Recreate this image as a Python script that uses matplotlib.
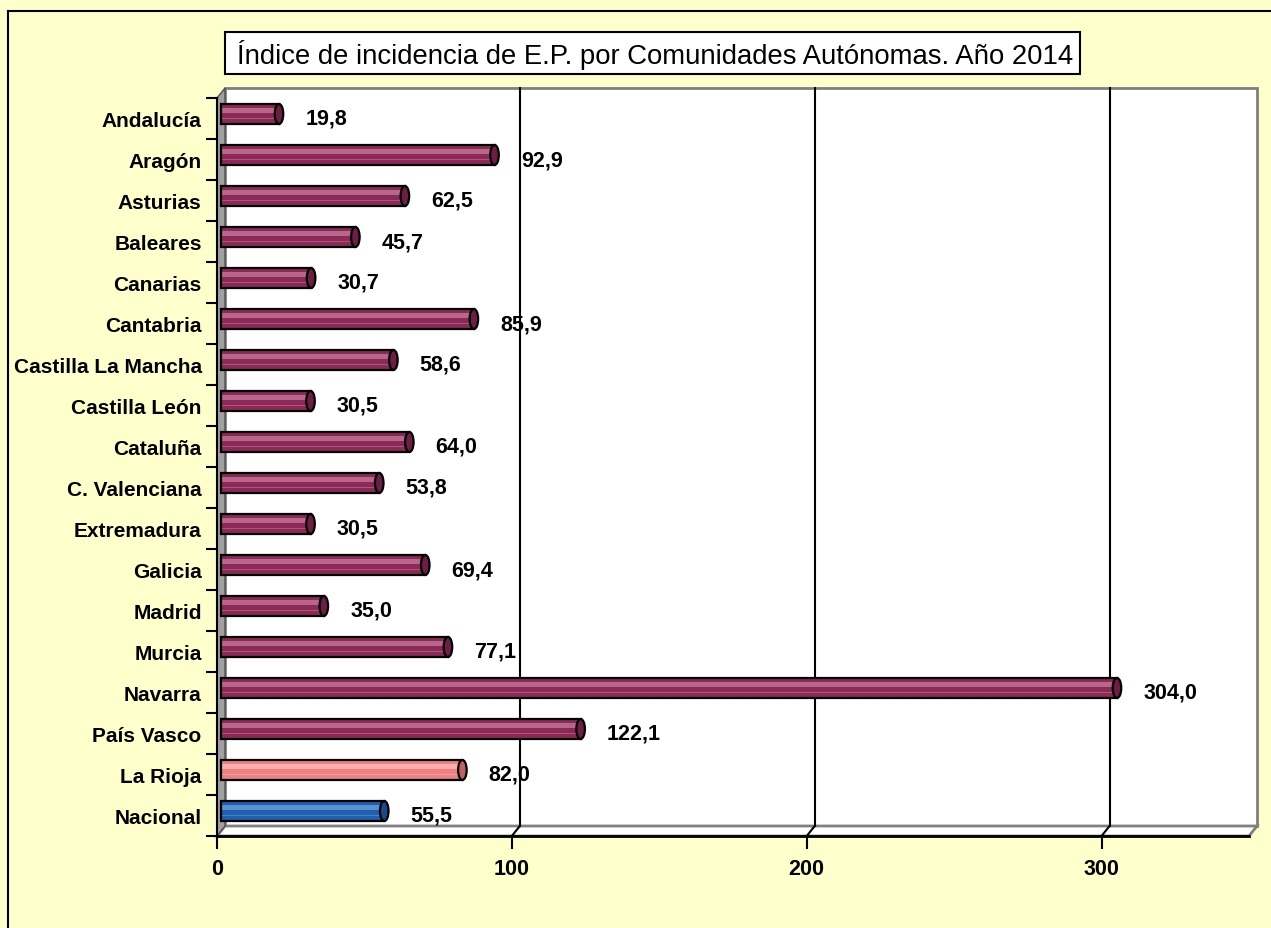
import numpy as np
import matplotlib.pyplot as plt
from matplotlib.patches import Ellipse, Polygon, Rectangle
from matplotlib.lines import Line2D
import matplotlib.transforms as mtransforms

plt.rcParams['font.family'] = ['Liberation Sans', 'DejaVu Sans']

regions = ["Andalucía", "Aragón", "Asturias", "Baleares", "Canarias", "Cantabria",
           "Castilla La Mancha", "Castilla León", "Cataluña", "C. Valenciana",
           "Extremadura", "Galicia", "Madrid", "Murcia", "Navarra", "País Vasco",
           "La Rioja", "Nacional"]
values = [19.8, 92.9, 62.5, 45.7, 30.7, 85.9, 58.6, 30.5, 64.0, 53.8,
          30.5, 69.4, 35.0, 77.1, 304.0, 122.1, 82.0, 55.5]
title = "Índice de incidencia de E.P. por Comunidades Autónomas. Año 2014"

W, H = 1271, 929
fig = plt.figure(figsize=(W / 100, H / 100), dpi=100)
fig.patch.set_facecolor("#FFFFCC")

# front plane of the 3D box, in pixels
x0, x1, ytop, ybot = 217, 1249, 99, 837
ax = fig.add_axes([x0 / W, 1 - ybot / H, (x1 - x0) / W, (ybot - ytop) / H])
ax.set_facecolor("none")
xmax = 350
ax.set_xlim(0, xmax)
n = len(regions)
ax.set_ylim(n - 0.5, -0.5)

# 3D depth offset (pixels)
dx, dy = 8, 10
dxa, dya = dx / (x1 - x0), dy / (ybot - ytop)

# back wall
ax.add_patch(Rectangle((dxa, dya), 1, 1, transform=ax.transAxes, facecolor="white",
                       edgecolor="#808080", lw=2, clip_on=False, zorder=0))
# floor
ax.add_patch(Polygon([(0, 0), (1, 0), (1 + dxa, dya), (dxa, dya)], closed=True,
                     transform=ax.transAxes, facecolor="white", edgecolor="#808080",
                     lw=2, clip_on=False, zorder=0.5))
# left wall
ax.add_patch(Polygon([(0, 0), (dxa, dya), (dxa, 1 + dya), (0, 1)], closed=True,
                     transform=ax.transAxes, facecolor="#A0A0A0", edgecolor="#505050",
                     lw=1, clip_on=False, zorder=0.6))

# gridlines on the back wall
gtrans = mtransforms.blended_transform_factory(ax.transData, ax.transAxes)
for gx in [100, 200, 300]:
    gxs = gx + dxa * xmax
    ax.add_line(Line2D([gxs, gxs], [dya, 1 + dya], transform=gtrans, color="black",
                       lw=1.5, zorder=0.7, clip_on=False))
    ax.add_line(Line2D([gx, gxs], [0, dya], transform=gtrans, color="black",
                       lw=1.5, zorder=0.7, clip_on=False))
ax.add_line(Line2D([0, 1], [0, 0], transform=ax.transAxes, color="black", lw=2,
                   zorder=0.8, clip_on=False))

# bars as cylinders
main_col = ["#8B2A57"] * n
main_col[-2] = "#F08080"
main_col[-1] = "#1F5FB0"
light_col = ["#B9668C"] * n
light_col[-2] = "#F7AFAF"
light_col[-1] = "#5A8FD0"
cap_col = ["#6E1E44"] * n
cap_col[-2] = "#C06060"
cap_col[-1] = "#174A8A"

bh = 0.49
shift_x = dxa * xmax * 0.45
shift_y = -0.11
ypos = np.arange(n) + shift_y
cap_w = 2.9
for i, v in enumerate(values):
    yc = ypos[i]
    ax.barh(yc, v, left=shift_x, height=bh, color=main_col[i], edgecolor="none", zorder=2)
    ax.barh(yc - bh * 0.18, v, left=shift_x, height=bh * 0.22, color=light_col[i],
            edgecolor="none", zorder=2.1)
    ax.barh(yc + bh * 0.22, v, left=shift_x, height=bh * 0.08, color=light_col[i],
            edgecolor="none", alpha=0.7, zorder=2.1)
    ax.barh(yc, v, left=shift_x, height=bh, color="none", edgecolor="black", lw=1.6, zorder=2.2)
    ax.add_patch(Ellipse((v + shift_x, yc), cap_w, bh, facecolor=cap_col[i],
                         edgecolor="black", lw=1.6, zorder=2.3))
    ax.annotate(f"{v:.1f}".replace(".", ","), xy=(v, i), xytext=(30, 0),
                textcoords="offset pixels", ha="left", va="center",
                fontsize=15.5, fontweight="bold", zorder=3)

# axes, ticks
for s in ["top", "right", "bottom"]:
    ax.spines[s].set_visible(False)
ax.spines["left"].set_color("black")
ax.spines["left"].set_linewidth(1.5)
ax.set_xticks([0, 100, 200, 300])
ax.tick_params(axis="x", length=9, width=1.5, labelsize=15.5, pad=7)
for t in ax.get_xticklabels():
    t.set_fontweight("bold")
ax.set_yticks(np.arange(n + 1) - 0.5)
ax.set_yticklabels([])
ax.tick_params(axis="y", which="major", length=8, width=1.5)
ax.set_yticks(np.arange(n), minor=True)
ax.set_yticklabels(regions, minor=True)
ax.tick_params(axis="y", which="minor", length=0, pad=11, labelsize=15)
for t in ax.get_yticklabels(minor=True):
    t.set_fontweight("bold")

# title box
fig.add_artist(Rectangle((225 / W, 1 - 75 / H), 855 / W, 42 / H, transform=fig.transFigure,
                         facecolor="white", edgecolor="black", lw=1.5, zorder=1))
fig.text(655 / W, 1 - 55 / H, title, ha="center", va="center", fontsize=19.8, zorder=2)

# outer frame
fig.add_artist(Line2D([8 / W, 8 / W], [0, 1 - 12 / H], color="black", lw=1.5))
fig.add_artist(Line2D([8 / W, 1], [1 - 12 / H, 1 - 12 / H], color="black", lw=1.5))

fig.savefig("out.png", dpi=100, facecolor=fig.get_facecolor())
